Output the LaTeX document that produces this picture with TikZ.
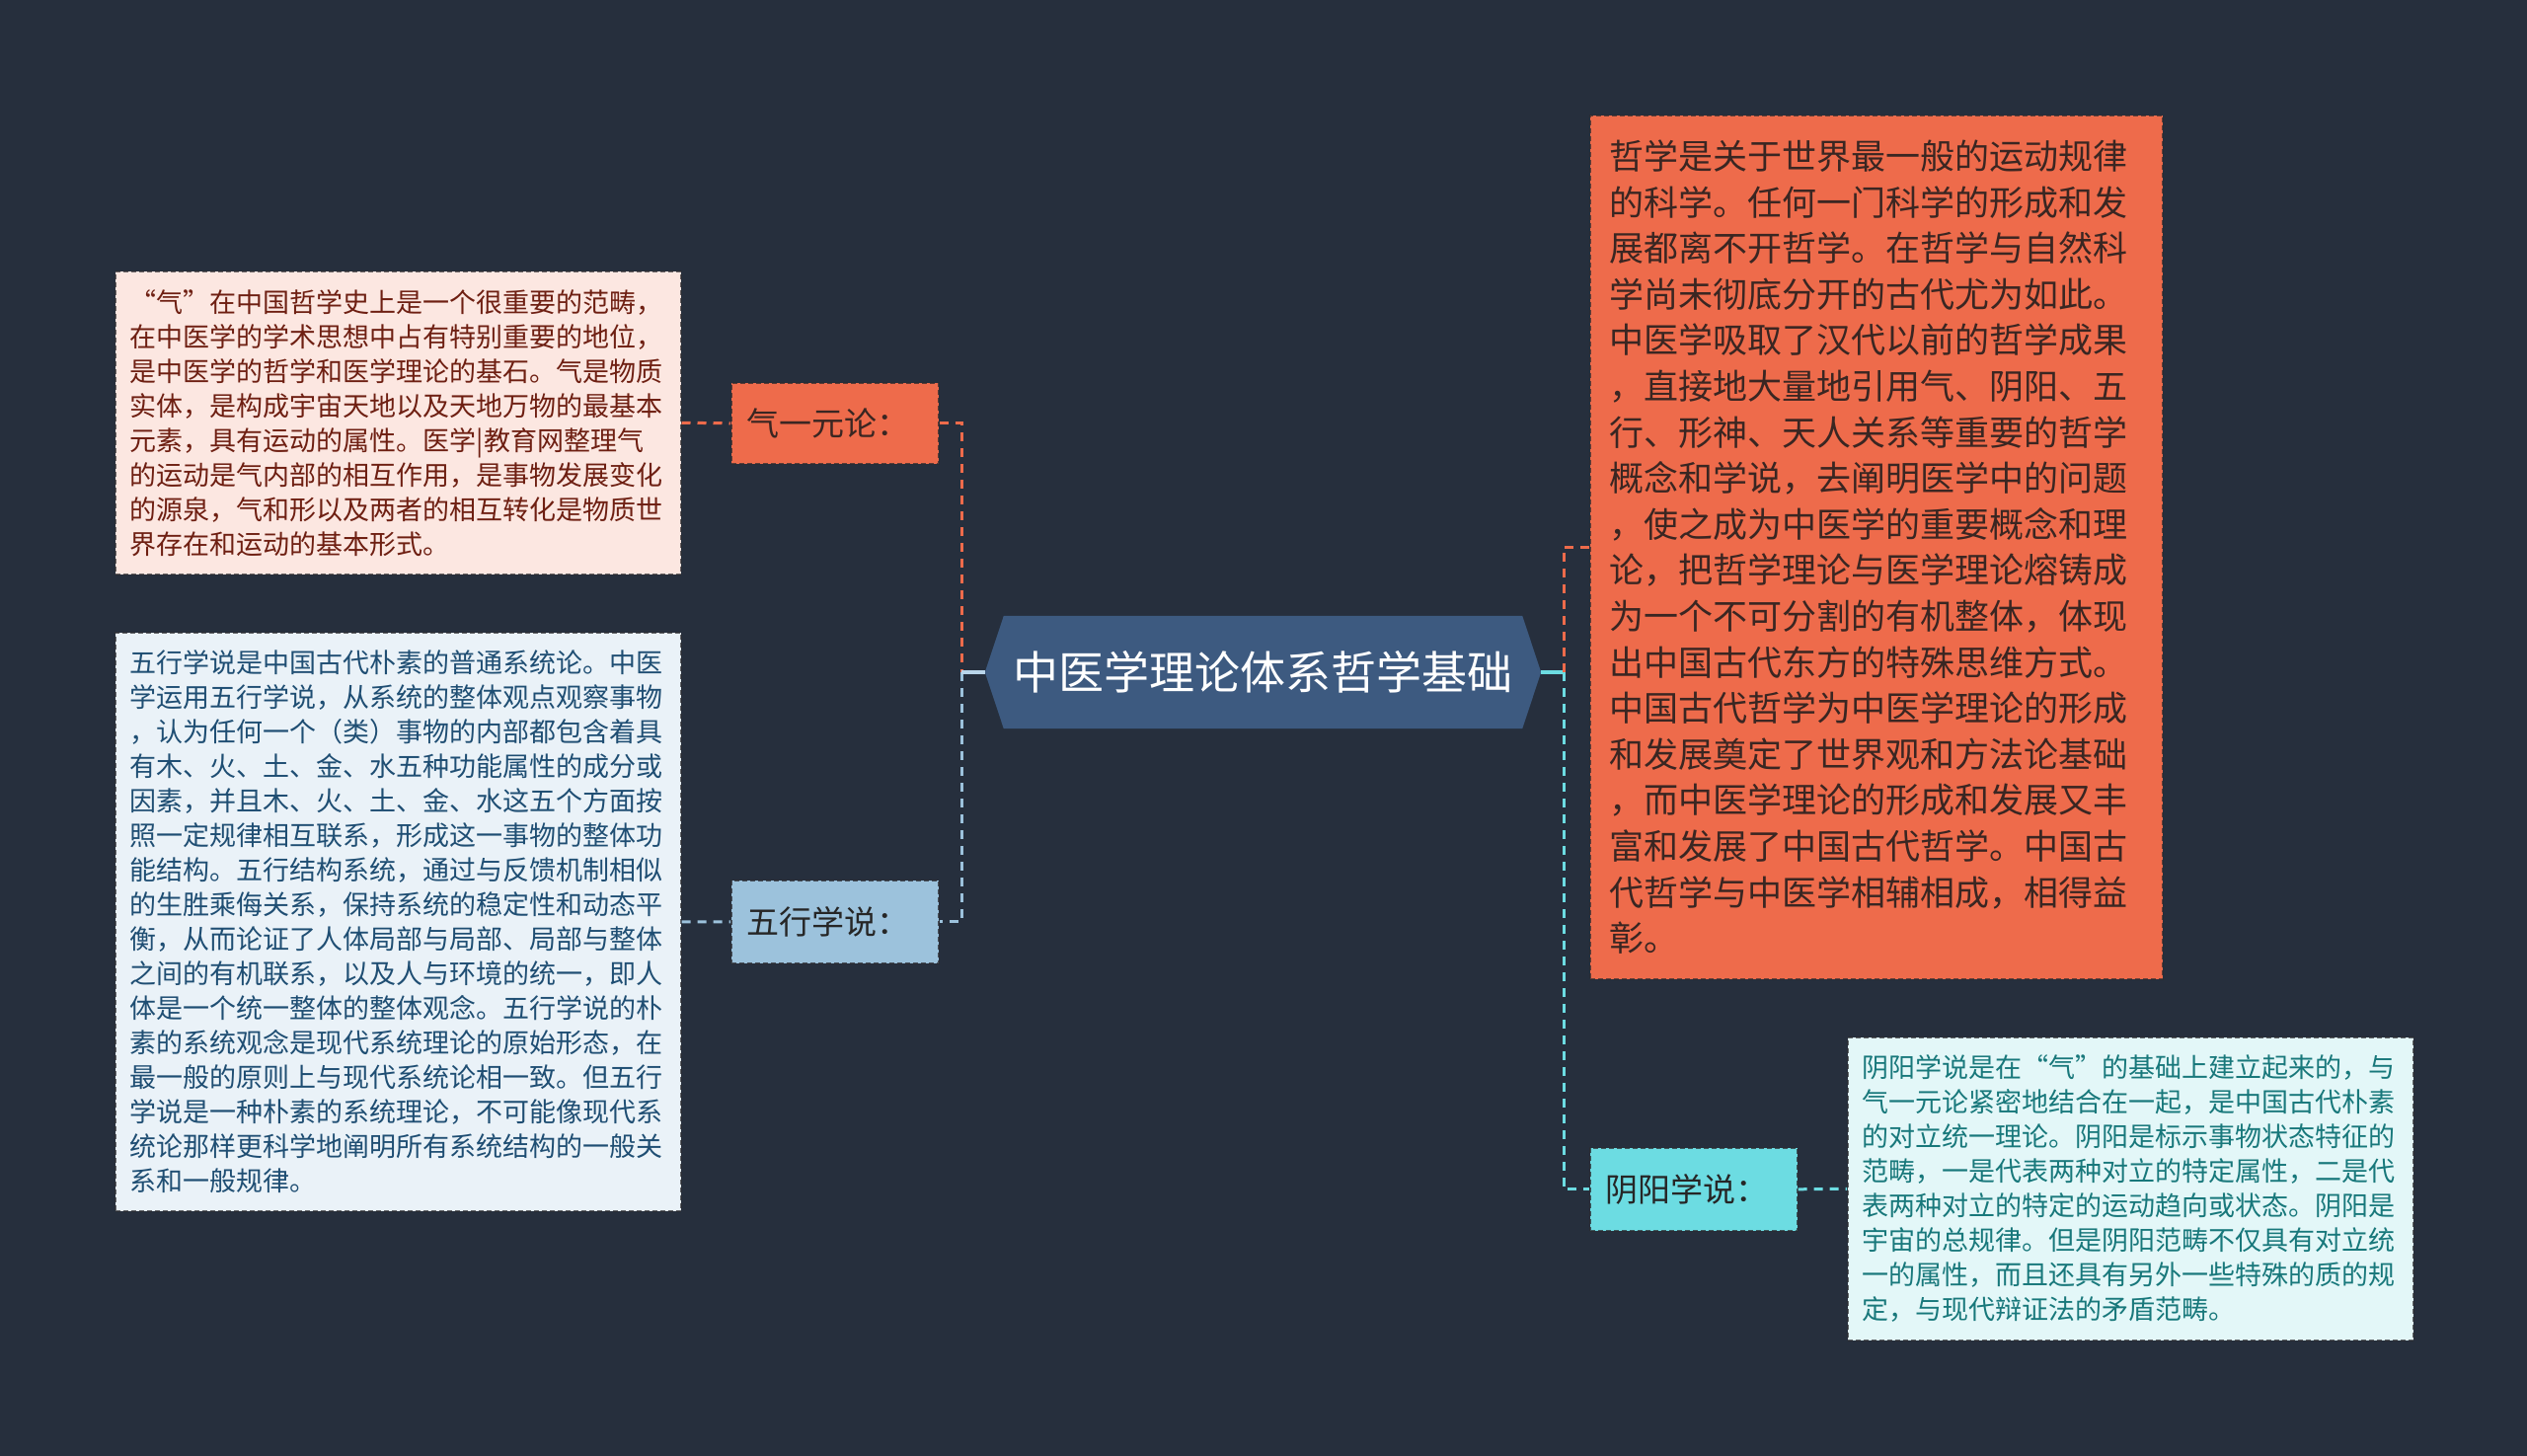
\documentclass[tikz,border=0pt]{standalone}
\usepackage{fontspec}
\newfontfamily\cjk{Noto Sans CJK SC}
\usetikzlibrary{backgrounds}
\definecolor{bgc}{HTML}{262F3D}
\definecolor{rootc}{HTML}{3D5A80}
\definecolor{coralc}{HTML}{EE6B4B}
\definecolor{coraltext}{HTML}{3A2622}
\definecolor{wxc}{HTML}{9CC2DC}
\definecolor{wxstub}{HTML}{B9D5EA}
\definecolor{yyc}{HTML}{6CDCE2}
\definecolor{boxAfill}{HTML}{FCE7E1}
\definecolor{boxAtext}{HTML}{6E1F12}
\definecolor{boxBfill}{HTML}{EAF2F8}
\definecolor{boxBtext}{HTML}{1F4E73}
\definecolor{boxDfill}{HTML}{E3F7F8}
\definecolor{boxDtext}{HTML}{18787B}
\definecolor{edgec}{HTML}{2B2B30}
\begin{document}
\begin{tikzpicture}[x=1pt,y=-1pt,
  rootnode/.style={minimum width=563pt, minimum height=114pt, inner sep=0pt,
    font=\cjk\fontsize{46}{56}\selectfont, text=white},
  labelnode/.style={anchor=north west, inner xsep=16pt, inner ysep=0pt, align=left,
    text width=178pt, draw=edgec, draw opacity=0.75, dash pattern=on 5pt off 3pt, line width=1.6pt,
    font=\cjk\fontsize{33}{40}\selectfont},
  textbox/.style={anchor=north west, inner ysep=0pt, align=left,
    draw=edgec, draw opacity=0.7, dash pattern=on 5pt off 3pt, line width=1.5pt},
  smallbox/.style={textbox, inner xsep=15pt, text width=543pt,
    font=\cjk\fontsize{27}{35}\selectfont},
  bigbox/.style={textbox, inner xsep=20pt, text width=540pt,
    font=\cjk\fontsize{35}{46.6}\selectfont},
  conn/.style={line width=3pt, dash pattern=on 9pt off 7pt},
  stub/.style={line width=3.2pt}
]
\begin{pgfonlayer}{background}
\fill[bgc] (0,0) rectangle (2560,1475);
\end{pgfonlayer}
\useasboundingbox (0,0) rectangle (2560,1475);

% central node
\node[rootnode] (root) at (1279.5,681) {中医学理论体系哲学基础};
\begin{pgfonlayer}{background}
\fill[rootc] ([xshift=19pt]root.north west) -- ([xshift=-19pt]root.north east) -- (root.east)
  -- ([xshift=-19pt]root.south east) -- ([xshift=19pt]root.south west) -- (root.west) -- cycle;
\end{pgfonlayer}

% label nodes
\node[labelnode, fill=coralc, text=coraltext, minimum height=82pt] (qi) at (740,387) {气一元论：};
\node[labelnode, fill=wxc, text=black!85, minimum height=84pt] (wx) at (740,891) {五行学说：};
\node[labelnode, fill=yyc, text=black!85, minimum height=84pt] (yy) at (1610,1162) {阴阳学说：};

% text boxes
\node[smallbox, fill=boxAfill, text=boxAtext, minimum height=307pt] (b1) at (116,274) {“气”在中国哲学史上是一个很重要的范畴，\\
在中医学的学术思想中占有特别重要的地位，\\
是中医学的哲学和医学理论的基石。气是物质\\
实体，是构成宇宙天地以及天地万物的最基本\\
元素，具有运动的属性。医学|教育网整理气\\
的运动是气内部的相互作用，是事物发展变化\\
的源泉，气和形以及两者的相互转化是物质世\\
界存在和运动的基本形式。};

\node[smallbox, fill=boxBfill, text=boxBtext, minimum height=586pt] (b2) at (116,640) {五行学说是中国古代朴素的普通系统论。中医\\
学运用五行学说，从系统的整体观点观察事物\\
，认为任何一个（类）事物的内部都包含着具\\
有木、火、土、金、水五种功能属性的成分或\\
因素，并且木、火、土、金、水这五个方面按\\
照一定规律相互联系，形成这一事物的整体功\\
能结构。五行结构系统，通过与反馈机制相似\\
的生胜乘侮关系，保持系统的稳定性和动态平\\
衡，从而论证了人体局部与局部、局部与整体\\
之间的有机联系，以及人与环境的统一，即人\\
体是一个统一整体的整体观念。五行学说的朴\\
素的系统观念是现代系统理论的原始形态，在\\
最一般的原则上与现代系统论相一致。但五行\\
学说是一种朴素的系统理论，不可能像现代系\\
统论那样更科学地阐明所有系统结构的一般关\\
系和一般规律。};

\node[bigbox, fill=coralc, text=coraltext, minimum height=875pt] (phil) at (1610,116) {哲学是关于世界最一般的运动规律\\
的科学。任何一门科学的形成和发\\
展都离不开哲学。在哲学与自然科\\
学尚未彻底分开的古代尤为如此。\\
中医学吸取了汉代以前的哲学成果\\
，直接地大量地引用气、阴阳、五\\
行、形神、天人关系等重要的哲学\\
概念和学说，去阐明医学中的问题\\
，使之成为中医学的重要概念和理\\
论，把哲学理论与医学理论熔铸成\\
为一个不可分割的有机整体，体现\\
出中国古代东方的特殊思维方式。\\
中国古代哲学为中医学理论的形成\\
和发展奠定了世界观和方法论基础\\
，而中医学理论的形成和发展又丰\\
富和发展了中国古代哲学。中国古\\
代哲学与中医学相辅相成，相得益\\
彰。};

\node[smallbox, fill=boxDfill, text=boxDtext, minimum height=307pt] (b4) at (1871,1050) {阴阳学说是在“气”的基础上建立起来的，与\\
气一元论紧密地结合在一起，是中国古代朴素\\
的对立统一理论。阴阳是标示事物状态特征的\\
范畴，一是代表两种对立的特定属性，二是代\\
表两种对立的特定的运动趋向或状态。阴阳是\\
宇宙的总规律。但是阴阳范畴不仅具有对立统\\
一的属性，而且还具有另外一些特殊的质的规\\
定，与现代辩证法的矛盾范畴。};

% connectors
\coordinate (jL) at (974,681);
\coordinate (jR) at (1584,681);
\draw[conn, coralc] (qi.east) -| (jL);
\draw[conn, wxc] (jL) |- (wx.east);
\draw[stub, wxstub] (jL) -- (root.west);
\draw[conn, coralc] (b1.east) -- (qi.west);
\draw[conn, wxc] (b2.east) -- (wx.west);
\draw[stub, yyc] (root.east) -- (jR);
\draw[conn, coralc] (jR) |- (phil.west);
\draw[conn, yyc] (jR) |- (yy.west);
\draw[conn, yyc] (yy.east) -- (b4.west);
\end{tikzpicture}
\end{document}
